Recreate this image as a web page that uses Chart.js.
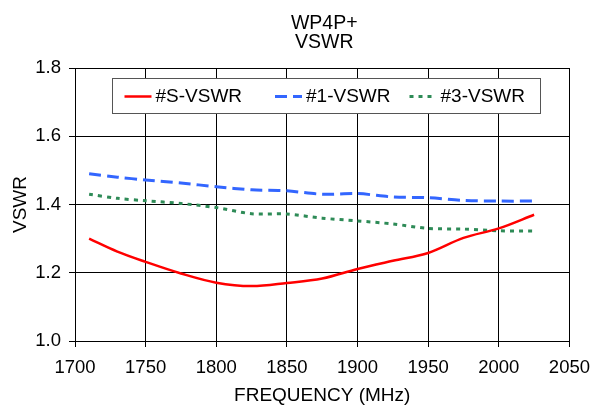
<!DOCTYPE html>
<html>
<head>
<meta charset="utf-8">
<script src="https://cdn.jsdelivr.net/npm/chart.js@4/dist/chart.umd.min.js"></script>
<style>
    body { margin: 0; background: #fff; }
    #wrap { width: 600px; height: 405px; }
</style>
</head>
<body>
<div id="wrap"><canvas id="vswrChart" width="600" height="405"></canvas></div>
<script>
// values
var titleLines = ['WP4P+', 'VSWR'];
var seriesNames = ['#S-VSWR', '#1-VSWR', '#3-VSWR'];
var freqs = [1710, 1730, 1750, 1775, 1800, 1825, 1850, 1875, 1900, 1925, 1950, 1975, 2000, 2025];
var vswrS = [1.300, 1.262, 1.232, 1.198, 1.171, 1.161, 1.170, 1.183, 1.211, 1.235, 1.258, 1.302, 1.330, 1.370];
var vswr1 = [1.490, 1.480, 1.472, 1.463, 1.452, 1.443, 1.440, 1.430, 1.432, 1.422, 1.420, 1.412, 1.410, 1.410];
var vswr3 = [1.430, 1.418, 1.411, 1.403, 1.391, 1.373, 1.372, 1.360, 1.352, 1.343, 1.330, 1.328, 1.323, 1.322];

var FONT = "'Liberation Sans', Arial, sans-serif";

function toPoints(ys) {
    return freqs.map(function(f, i) {
        return {x: f, y: ys[i]};
    });
}

// title centred over the plot area + boxed legend inside it
var excelBits = {
    id: 'excelBits',
    afterDraw: function(chart) {
        var ctx = chart.ctx;
        var area = chart.chartArea;
        var cx = (area.left + area.right) / 2;

        ctx.save();
        ctx.fillStyle = '#000';
        ctx.font = '19.5px ' + FONT;
        ctx.textAlign = 'center';
        ctx.textBaseline = 'alphabetic';
        ctx.fillText(titleLines[0], cx + 2, 28.5);
        ctx.fillText(titleLines[1], cx + 2, 48);

        // legend box
        var bx = area.left + 37, by = area.top + 10, bw = 428, bh = 35;
        ctx.fillStyle = '#fff';
        ctx.fillRect(bx, by, bw, bh);
        ctx.strokeStyle = '#555';
        ctx.lineWidth = 1;
        ctx.strokeRect(bx + 0.5, by + 0.5, bw, bh);

        var offsets = [12.5, 163, 297.5];
        var midY = by + bh / 2 + 1;
        ctx.font = '19px ' + FONT;
        ctx.textAlign = 'left';
        ctx.textBaseline = 'middle';
        chart.data.datasets.forEach(function(ds, i) {
            var x0 = bx + offsets[i];
            ctx.beginPath();
            ctx.setLineDash(ds.borderDash || []);
            ctx.strokeStyle = ds.borderColor;
            ctx.lineWidth = ds.borderWidth;
            ctx.moveTo(x0, midY);
            ctx.lineTo(x0 + 27, midY);
            ctx.stroke();
            ctx.setLineDash([]);
            ctx.fillStyle = '#000';
            ctx.fillText(ds.label, x0 + 31, midY);
        });
        ctx.restore();
    }
};

new Chart(document.getElementById('vswrChart').getContext('2d'), {
    type: 'line',
    data: {
        datasets: [{
            label: seriesNames[0],
            data: toPoints(vswrS),
            borderColor: '#FF0000',
            borderWidth: 2.5,
            tension: 0.35
        }, {
            label: seriesNames[1],
            data: toPoints(vswr1),
            borderColor: '#3366FF',
            borderWidth: 3,
            borderDash: [12, 6],
            tension: 0.3
        }, {
            label: seriesNames[2],
            data: toPoints(vswr3),
            borderColor: '#2E8B57',
            borderWidth: 3,
            borderDash: [4, 5],
            tension: 0.3
        }]
    },
    options: {
        responsive: false,
        animation: false,
        layout: { padding: { top: 68, right: 21, bottom: 0, left: 0 } },
        elements: { point: { radius: 0 } },
        plugins: {
            legend: { display: false },
            title: { display: false },
            tooltip: { enabled: false }
        },
        scales: {
            x: {
                type: 'linear',
                min: 1700,
                max: 2050,
                afterFit: function(scale) { scale.height = 64; },
                ticks: {
                    stepSize: 50,
                    autoSkip: false,
                    maxRotation: 0,
                    padding: 10,
                    color: '#000',
                    font: { family: FONT, size: 18.5 },
                    callback: function(v) { return String(v); }
                },
                grid: { color: '#000', lineWidth: 1, tickLength: 6 },
                border: { color: '#000', width: 1 },
                title: {
                    display: true,
                    text: 'FREQUENCY (MHz)',
                    color: '#000',
                    padding: 0,
                    font: { family: FONT, size: 19, lineHeight: 1 }
                }
            },
            y: {
                min: 1.0,
                max: 1.8,
                afterFit: function(scale) { scale.width = 75; },
                ticks: {
                    stepSize: 0.2,
                    padding: 8,
                    color: '#000',
                    font: { family: FONT, size: 18.5 },
                    callback: function(v) { return v.toFixed(1); }
                },
                grid: { color: '#000', lineWidth: 1, tickLength: 6 },
                border: { color: '#000', width: 1 },
                title: {
                    display: true,
                    text: 'VSWR',
                    color: '#000',
                    padding: { top: 11, bottom: 0 },
                    font: { family: FONT, size: 19, lineHeight: 1 }
                }
            }
        }
    },
    plugins: [excelBits]
});
</script>
</body>
</html>
